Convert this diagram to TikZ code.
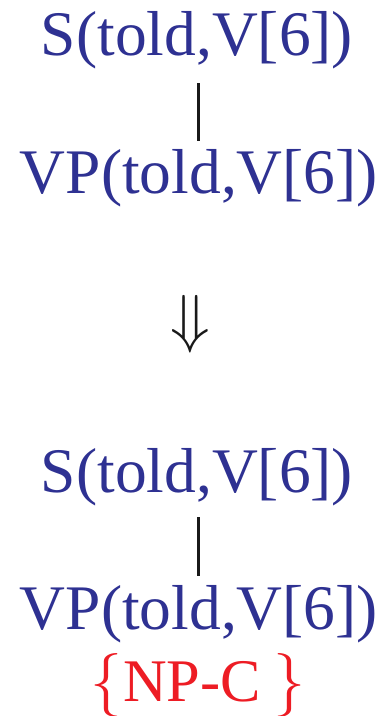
\documentclass[tikz,border=0pt]{standalone}
\usepackage{graphicx}
\usepackage{fontspec}
\setmainfont{Liberation Serif}
\definecolor{treeblue}{RGB}{46,49,146}
\definecolor{featred}{RGB}{237,28,36}
\newcommand{\bigbrace}[1]{\scalebox{6.4}{\normalsize$#1$}}
\begin{document}
\begin{tikzpicture}[x=1pt,y=1pt,
  lbl/.style={font=\fontsize{63.5}{63.5}\selectfont, text=treeblue, inner sep=0pt, anchor=base},
  feat/.style={font=\fontsize{60.5}{60.5}\selectfont, text=featred, inner sep=0pt, anchor=base},
  branch/.style={line width=3pt, black!90}]
\useasboundingbox (0,0) rectangle (381,-716);
% rule before the transformation
\node[lbl] (s1) at (197,-55) {S(told,V[6])};
\node[lbl] (vp1) at (199,-193) {VP(told,V[6])};
\draw[branch] (198.3,-83) -- (198.3,-141);
% rewrite arrow
\node[inner sep=0pt, black!90] (arr) at (190,-324) {\scalebox{6.5}{\normalsize$\Downarrow$}};
% rule after the transformation
\node[lbl] (s2) at (197,-492) {S(told,V[6])};
\node[lbl] (vp2) at (199,-629) {VP(told,V[6])};
\draw[branch] (198.3,-517) -- (198.3,-576);
\node[feat] (nc) at (198,-701) {\bigbrace{\{}\kern1pt NP-C\kern13pt\bigbrace{\}}};
\end{tikzpicture}
\end{document}
